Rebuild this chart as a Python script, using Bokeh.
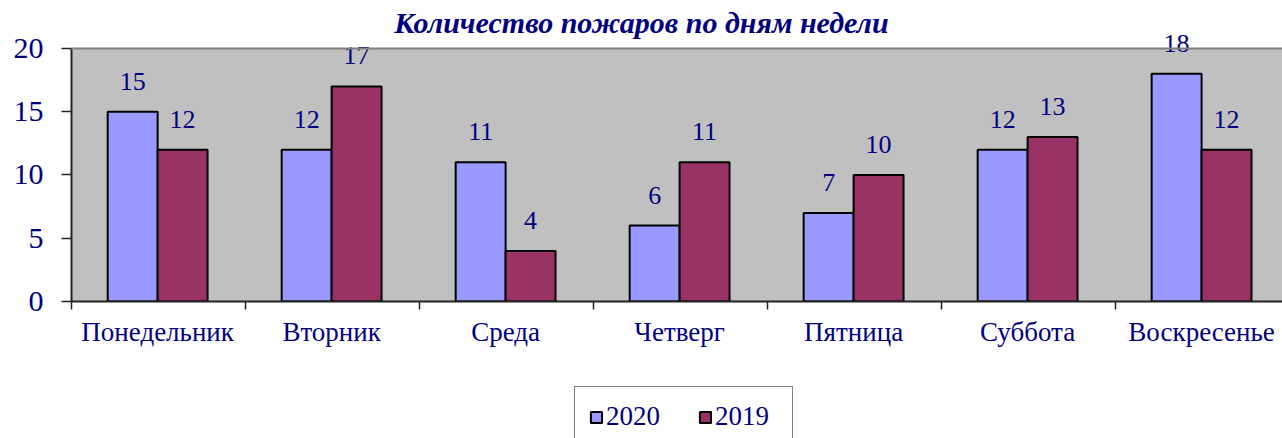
from bokeh.plotting import figure
from bokeh.models import (ColumnDataSource, Range1d, FixedTicker, LabelSet, Label, Legend,
                          LegendItem, Span, BoxAnnotation)
from bokeh.layouts import column
from bokeh.transform import dodge
from bokeh.embed import file_html
from bokeh.resources import INLINE

days = ["Понедельник", "Вторник", "Среда", "Четверг", "Пятница", "Суббота", "Воскресенье"]
v2020 = [15, 12, 11, 6, 7, 12, 18]
v2019 = [12, 17, 4, 11, 10, 13, 12]
series_names = ["2020", "2019"]
y_ticks = [0, 5, 10, 15, 20]
title_text = "Количество пожаров по дням недели"

NAVY = "#000080"
C2020 = "#9999FF"
C2019 = "#993366"
FONT = "Liberation Serif"

pos = [i + 0.495 for i in range(len(days))]
src = ColumnDataSource(dict(x=pos, day=days, v2020=v2020, v2019=v2019,
                            l2020=[str(v) for v in v2020], l2019=[str(v) for v in v2019]))

p = figure(width=1282, height=380, output_backend="svg", toolbar_location=None,
           x_range=Range1d(0, 6.96), y_range=Range1d(0, 23.79),
           min_border_left=71, min_border_right=0, min_border_top=0, min_border_bottom=79)

p.background_fill_color = "white"
p.border_fill_color = "white"
p.outline_line_color = None

p.add_layout(BoxAnnotation(bottom=0, top=20, fill_color="#C0C0C0", fill_alpha=1,
                           line_color=None, level="underlay"))

w = 0.287
r1 = p.vbar(x=dodge("x", -0.1435, range=p.x_range), top="v2020", width=w, source=src,
            fill_color=C2020, line_color="black", line_width=2)
r2 = p.vbar(x=dodge("x", 0.1435, range=p.x_range), top="v2019", width=w, source=src,
            fill_color=C2019, line_color="black", line_width=2)

for col, off in (("2020", -0.1435), ("2019", 0.1435)):
    p.add_layout(LabelSet(x=dodge("x", off, range=p.x_range), y="v" + col, text="l" + col,
                          source=src, text_align="center", text_baseline="alphabetic",
                          y_offset=22, text_font=FONT, text_font_size="26px",
                          text_color=NAVY))

p.add_layout(Span(location=20, dimension="width", line_color="#808080", line_width=2))

p.add_layout(Label(x=3.276, y=22.05, text=title_text, text_align="center",
                   text_baseline="alphabetic", text_font=FONT, text_font_style="bold italic",
                   text_font_size="30px", text_color=NAVY))

# grid
p.xgrid.visible = False
p.ygrid.ticker = FixedTicker(ticks=[5, 10, 15])
p.ygrid.grid_line_color = "#111111"
p.ygrid.grid_line_width = 1
p.ygrid.level = "underlay"

# y axis
p.yaxis.ticker = FixedTicker(ticks=y_ticks)
p.yaxis.bounds = (0, 20)
p.yaxis.axis_line_color = "#222222"
p.yaxis.axis_line_width = 2
p.yaxis.major_tick_line_color = "#222222"
p.yaxis.major_tick_line_width = 1.5
p.yaxis.major_tick_out = 10
p.yaxis.major_tick_in = 0
p.yaxis.minor_tick_line_color = None
p.yaxis.major_label_text_font = FONT
p.yaxis.major_label_text_font_size = "30px"
p.yaxis.major_label_text_color = NAVY
p.yaxis.major_label_standoff = 18

# x axis: labels at centres, tick marks at boundaries
p.xaxis.ticker = FixedTicker(ticks=pos, minor_ticks=list(range(len(days) + 1)))
p.xaxis.major_label_overrides = {x: d for x, d in zip(pos, days)}
p.xaxis.major_tick_line_color = None
p.xaxis.major_tick_out = 0
p.xaxis.major_tick_in = 0
p.xaxis.minor_tick_line_color = "#222222"
p.xaxis.minor_tick_line_width = 1.5
p.xaxis.minor_tick_out = 8
p.xaxis.minor_tick_in = 0
p.xaxis.axis_line_color = "#222222"
p.xaxis.axis_line_width = 2
p.xaxis.major_label_text_font = FONT
p.xaxis.major_label_text_font_size = "27px"
p.xaxis.major_label_text_color = NAVY
p.xaxis.major_label_standoff = 7

# legend strip below the chart (proxy renderers are hidden; only their legend swatches show)
p2 = figure(width=1282, height=58, output_backend="svg", toolbar_location=None,
            x_range=Range1d(0, 7), y_range=Range1d(30, 31),
            x_axis_location=None, y_axis_location=None,
            min_border_left=0, min_border_right=0, min_border_top=0, min_border_bottom=0)
p2.grid.visible = False
p2.outline_line_color = None
p2.background_fill_color = "white"
p2.border_fill_color = "white"
d1 = p2.vbar(x="x", top="v2020", width=w, source=src, fill_color=C2020,
             line_color="black", line_width=2)
d2 = p2.vbar(x="x", top="v2019", width=w, source=src, fill_color=C2019,
             line_color="black", line_width=2)
d1.visible = False
d2.visible = False

legend = Legend(items=[LegendItem(label=series_names[0], renderers=[d1]),
                       LegendItem(label=series_names[1], renderers=[d2])],
                location=(503, -9), orientation="horizontal",
                label_text_font=FONT, label_text_font_size="27px", label_text_color=NAVY,
                glyph_width=14, glyph_height=14, label_standoff=3, spacing=29,
                padding=14, margin=0, label_width=63,
                border_line_color="black", border_line_width=1,
                background_fill_color="white", background_fill_alpha=1)
p2.add_layout(legend, "center")

layout = column(p, p2, spacing=0)
open("out.html", "w").write(file_html(layout, INLINE))
